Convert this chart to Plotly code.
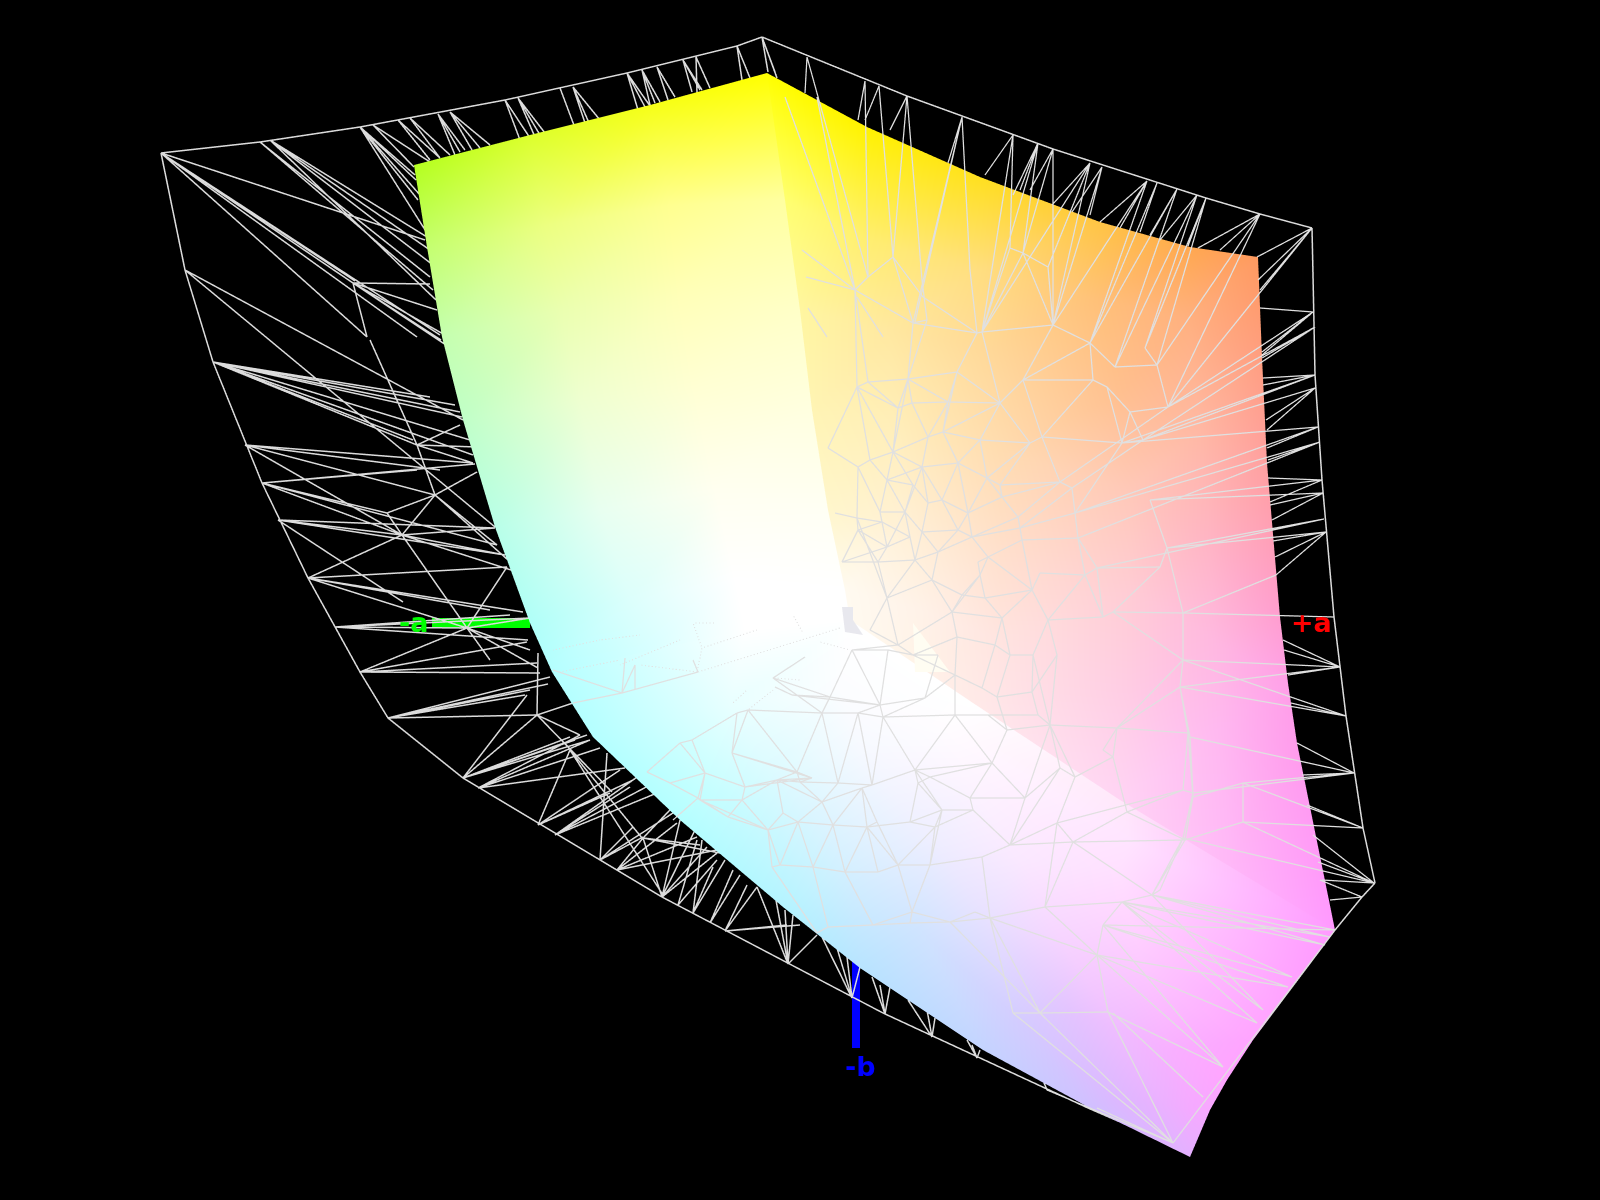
import plotly.graph_objects as go

# ---------- surface panels: rows of (x, y, colour) ----------
LEFT_PANEL = [
 [(414,165,"#b4ff20"),(530,135,"#dcff2c"),(650,105,"#f6ff18"),(767,73,"#ffff00")],
 [(427,247,"#c4ff70"),(545,225,"#ecff80"),(670,205,"#ffff90"),(785,200,"#ffffa0")],
 [(442,337,"#c4ffb0"),(560,310,"#eaffb0"),(680,295,"#ffffb8"),(800,310,"#ffffc8")],
 [(463,420,"#c0ffc8"),(580,400,"#eeffd0"),(695,390,"#ffffd4"),(812,410,"#ffffe0")],
 [(495,527,"#b8ffe8"),(600,510,"#e8fff0"),(715,490,"#fffff0"),(828,510,"#fffff4")],
 [(530,623,"#b0fff8"),(630,600,"#dcfffc"),(735,580,"#ffffff"),(845,590,"#ffffff")],
 [(552,672,"#b4ffff"),(640,655,"#d4ffff"),(745,630,"#ffffff"),(850,620,"#ffffff")],
]
RIGHT_PANEL = [
 [(767,73,"#ffff00"),(867,127,"#fff200"),(980,177,"#ffe020"),(1100,222,"#ffc545"),(1190,247,"#ffa850"),(1258,257,"#ff9a60")],
 [(785,200,"#ffff70"),(870,240,"#ffee70"),(980,270,"#ffde80"),(1100,300,"#ffc078"),(1190,320,"#ffb080"),(1262,357,"#ff9e80")],
 [(800,310,"#fff6a0"),(890,330,"#ffe8a0"),(990,350,"#ffd898"),(1120,395,"#ffc090"),(1200,430,"#ffb8a4"),(1267,463,"#ffa0a0")],
 [(812,410,"#fff4b4"),(895,420,"#ffeeb8"),(1000,450,"#ffdcb0"),(1130,490,"#ffc8b8"),(1210,540,"#ffb4c4"),(1280,617,"#ff9ed0")],
 [(828,510,"#fff6cc"),(905,520,"#fff0d4"),(1000,550,"#ffe0cc"),(1130,590,"#ffccd4"),(1215,640,"#ffb8e0"),(1288,683,"#ffa0e8")],
 [(845,590,"#fffaf0"),(920,610,"#fff2e8"),(1000,640,"#ffe4e0"),(1130,690,"#ffcce4"),(1220,730,"#ffb8f0"),(1297,743,"#ff9cec")],
 [(850,620,"#fffaf0"),(911,663,"#fff4e8"),(973,704,"#ffeae8"),(1120,801,"#ffd4f4"),(1230,869,"#ffb8f8"),(1335,930,"#ff99ff")],
]
BOTTOM_PANEL = [
 [(552,672,"#b4ffff"),(745,630,"#ffffff"),(850,620,"#ffffff"),(973,703,"#ffffff"),(1120,800,"#ffe8fa"),(1335,930,"#ff99ff")],
 [(593,737,"#b4ffff"),(730,705,"#e8ffff"),(840,690,"#fcfdff"),(950,730,"#fffcff"),(1130,840,"#ffe4ff"),(1320,950,"#ff9cff")],
 [(680,820,"#b4ffff"),(770,770,"#dcfbff"),(860,750,"#f6f9ff"),(970,780,"#fdf4ff"),(1120,870,"#ffe0ff"),(1300,975,"#ffa0ff")],
 [(783,907,"#b4f4ff"),(850,860,"#d8f0ff"),(930,840,"#eeeeff"),(1020,860,"#fae8ff"),(1130,920,"#ffd4ff"),(1280,1003,"#ffa4ff")],
 [(860,968,"#b8e4ff"),(920,930,"#d0e4ff"),(990,920,"#e8e0ff"),(1060,940,"#f6d4ff"),(1150,980,"#fcc4ff"),(1253,1040,"#ffa4ff")],
 [(983,1050,"#c4d4ff"),(1020,1020,"#d4ccff"),(1070,1010,"#e4c4ff"),(1120,1030,"#f0bcff"),(1170,1050,"#f8b0ff"),(1227,1080,"#ffa4ff")],
 [(1090,1108,"#d0c0ff"),(1115,1100,"#dcb8ff"),(1140,1100,"#e4b4ff"),(1165,1105,"#ecb0ff"),(1190,1110,"#f4aaff"),(1210,1110,"#f8a8ff")],
 [(1190,1157,"#e4b0ff"),(1190,1157,"#e4b0ff"),(1190,1157,"#e4b0ff"),(1190,1157,"#e4b0ff"),(1190,1157,"#e4b0ff"),(1190,1157,"#e4b0ff")],
]
L_MARK = [(842,607),(853,607),(853,620),(863,635),(845,632)]
PALE_WEDGE = [(913,623),(950,672),(915,672)]
GREEN_BAR = [(432,618),(530,618),(530,628),(432,628)]
BLUE_BAR = [(852,945),(860,945),(860,1048),(852,1048)]

# ---------- cage boundary ----------
CAGE = [(161,153),(260,142),(360,127),(505,100),(627,73),(737,46),(762,37),(907,96),(1053,149),(1206,198),(1260,214),
        (1312,228),(1313,275),(1315,375),(1322,480),(1334,617),(1346,716),(1363,828),(1375,883),(1362,897),(1335,930),
        (1173,1145),(1088,1108),(883,1013),(662,897),(463,778),(388,718),(360,672),(308,578),(262,483),(213,362),(185,270),(161,153)]

# ---------- fans behind the surface: apex, then the ends ----------
BACK_FANS = [
 ((161,153),[(425,240),(353,283),(355,281),(367,337),(417,337),(440,335)]),
 ((353,283),[(430,284),(437,310),(367,337),(445,335),(441,340),(446,345)]),
 ((185,270),[(463,420),(495,527)]),
 ((260,142),[(430,277),(433,290)]),
 ((270,140),[(433,265),(430,250),(427,237),(436,300)]),
 ((360,127),[(427,233),(418,200),(420,195),(416,180),(415,175)]),
 ((373,125),[(414,167),(430,162)]),
 ((398,120),[(430,160),(440,158)]),
 ((410,118),[(440,158),(450,155)]),
 ((438,114),[(455,155),(465,150),(460,152)]),
 ((450,112),[(480,148),(490,145),(472,150)]),
 ((505,100),[(520,140),(530,138)]),
 ((518,98),[(540,135),(545,133),(535,137)]),
 ((560,88),[(575,128)]),
 ((573,87),[(585,123),(600,120),(590,125)]),
 ((627,73),[(638,110),(645,107),(650,106)]),
 ((642,70),[(650,105),(655,103),(660,102)]),
 ((657,67),[(668,100),(675,97)]),
 ((683,60),[(692,92),(700,90),(702,90)]),
 ((696,57),[(710,88),(697,93)]),
 ((737,46),[(742,80),(750,78)]),
 ((762,37),[(768,72),(775,72),(777,78)]),
 ((213,362),[(462,417),(473,455),(430,397),(413,440),(417,445),(460,412),(455,405),(470,440)]),
 ((245,445),[(473,463),(435,495),(402,535),(440,470)]),
 ((262,483),[(475,464),(402,535),(497,545),(387,513),(417,470)]),
 ((278,520),[(495,528),(505,555),(403,602),(402,535)]),
 ((308,578),[(402,535),(507,567),(523,612),(467,628),(490,610)]),
 ((335,627),[(467,628),(530,618),(528,640),(510,615)]),
 ((370,340),[(417,445)]),
 ((417,445),[(435,495),(460,425),(473,463),(477,447)]),
 ((435,495),[(402,535),(477,472),(387,513),(497,545),(508,560)]),
 ((402,535),[(505,555),(467,628),(387,513),(495,528),(511,570)]),
 ((467,628),[(507,567),(490,660),(530,650),(538,668),(530,618)]),
 ((360,672),[(467,628),(527,642),(537,663),(540,673)]),
 ((388,718),[(550,677),(548,684),(537,715),(525,695),(530,690)]),
 ((463,778),[(537,715),(570,737),(587,735),(590,740),(527,695),(575,740)]),
 ((478,788),[(590,740),(625,768),(580,735),(600,748)]),
 ((537,715),[(538,653),(580,735),(612,792),(573,703)]),
 ((538,825),[(570,750),(610,793),(633,780),(620,770)]),
 ((555,835),[(657,793),(630,787),(640,775),(650,785)]),
 ((570,750),[(597,783),(642,838),(663,895)]),
 ((600,860),[(643,837),(673,813),(607,753),(633,827)]),
 ((617,870),[(717,850),(677,823),(697,837),(643,838)]),
 ((643,838),[(662,897),(700,845),(720,853),(670,810)]),
 ((662,897),[(680,820),(707,847),(717,853),(695,830)]),
 ((678,905),[(717,860),(697,840)]),
 ((693,913),[(713,867),(702,840),(725,860)]),
 ((710,923),[(740,875),(733,870)]),
 ((725,931),[(757,887),(787,925),(747,885)]),
 ((788,964),[(757,887),(785,910),(793,915),(817,935),(775,895)]),
 ((725,931),[(800,925)]),
 ((852,998),[(820,933),(837,948),(847,957),(860,967)]),
 ((885,1014),[(872,977),(890,987),(880,985)]),
 ((932,1037),[(908,1000),(927,1010),(935,1018)]),
 ((977,1058),[(967,1040),(980,1050),(972,1045)]),
 ((1047,1090),[(1045,1085),(1042,1078)]),
]

# ---------- nodes of the mesh on the surface ----------
NODES = {
 "a":(857,387),"b":(868,382),"c":(908,379),"d":(957,372),"e":(1000,403),"f":(1023,380),"g":(1093,380),"h":(948,402),
 "i":(912,403),"j":(898,408),"k":(928,437),"l":(943,432),"m":(980,440),"n":(1042,437),"o":(1030,443),"p":(893,452),
 "q":(828,448),"r":(858,467),"s":(870,460),"t":(922,467),"u":(958,463),"v":(987,478),"w":(1000,485),"x":(1060,482),
 "y":(1072,488),"z1":(887,480),"z2":(913,485),"z3":(928,503),"z4":(942,500),"z5":(968,513),"z6":(905,512),"z7":(880,512),
 "z8":(882,522),"z9":(857,518),"y1":(835,513),"y2":(958,530),"y3":(1018,517),"y4":(1020,528),"y5":(1075,513),"y6":(1078,538),
 "y7":(1022,540),"y8":(1002,497),"w1":(922,532),"w2":(910,537),"w3":(858,530),"w4":(887,547),"w5":(972,537),"w6":(988,557),
 "w7":(938,552),"w8":(915,560),"w9":(878,562),"v1":(842,562),"v2":(932,580),"v3":(978,562),"v4":(980,575),"v5":(962,595),
 "v6":(1032,590),"v7":(1040,573),"v8":(1085,575),"v9":(1160,567),"v10":(1097,568),"u1":(887,598),"u2":(952,612),"u3":(985,598),
 "u4":(1002,618),"u5":(1048,620),"u6":(1103,617),"u7":(1113,612),"u8":(870,630),"u9":(898,645),"u10":(913,655),"u11":(957,637),
 "u12":(995,645),"u13":(1010,655),"u14":(1033,655),"u15":(1057,655),
 "A1":(982,332),"A2":(1053,325),"A3":(1090,343),"A7":(1107,387),"A8":(1157,365),"A9":(1115,367),"A10":(1145,348),"A11":(1168,407),
 "A12":(1130,412),"A13":(1122,443),"A14":(1143,440),"A17":(1010,248),"A18":(1023,253),"A19":(1048,267),
 "N1":(855,290),"N2":(868,277),"N3":(893,257),"N4":(913,323),"N5":(927,320),"N6":(923,297),"N7":(977,333),
 "R1":(1183,613),"R2":(1183,660),"R3":(1180,687),"R4":(1190,737),"R5":(1193,793),"R6":(1183,838),"R7":(1160,890),"R8":(1167,548),"R9":(1150,500),
 "B1":(1050,725),"B2":(1117,728),"B3":(1103,750),"B4":(1113,757),"B5":(1060,768),"B6":(1075,777),"B7":(1127,812),"B8":(1057,823),
 "B9":(1073,842),"B10":(1185,840),"B11":(1183,790),"B12":(1193,797),"B13":(1188,733),"B14":(1243,783),"B15":(1243,822),"B16":(1152,895),
 "B17":(1122,902),"B18":(1045,907),"B19":(1097,955),"B20":(1103,925),
 "C1":(873,925),"C2":(912,912),"C3":(910,923),"C4":(950,922),"C5":(990,918),"C6":(975,912),"C12":(1040,1013),"C13":(1013,1013),
 "C14":(1108,1012),"C15":(1173,1143),
 "D1":(852,650),"D2":(888,650),"D3":(830,697),"D4":(880,705),"D5":(822,713),"D6":(858,713),"D7":(883,717),"D8":(955,715),"D9":(988,715),
 "D10":(737,713),"D11":(748,710),"D12":(732,753),"D13":(797,772),"D14":(812,778),"D15":(838,783),"D16":(872,785),"D17":(915,770),
 "D18":(992,763),"D19":(862,788),"D20":(822,802),"D21":(800,782),"D22":(705,773),"D23":(680,743),"D24":(692,740),"D25":(700,800),
 "D26":(745,787),"D27":(777,780),"D28":(783,813),"D29":(742,800),"D30":(728,817),"D31":(768,830),"D32":(798,822),"D33":(833,825),
 "D34":(867,827),"D35":(877,822),"D36":(935,827),"D37":(910,822),"D38":(942,810),"D39":(970,798),"D40":(1025,798),"D41":(973,810),
 "D42":(918,783),"D43":(930,777),"D44":(1010,845),"D45":(982,857),"D46":(898,865),"D47":(845,872),"D48":(813,867),"D49":(780,865),
 "D50":(772,867),"D51":(878,872),"D52":(930,865),"D58":(938,655),"D59":(955,675),"D60":(925,698),"D65":(982,688),"D66":(997,697),
 "D67":(1032,692),"D68":(1038,715),"D69":(1007,730),
 "E1":(622,693),"E2":(698,672),"E4":(698,798),"E6":(670,783),"E12":(647,772),"E13":(625,658),"E14":(635,665),"E15":(635,690),
 "E16":(553,670),"E17":(573,703),"E18":(693,660),"E19":(828,927),"E20":(817,933),"E21":(673,820),
 "H1":(773,678),"H2":(805,657),"H3":(775,687),"H4":(792,695),
}
MESH_EDGES = """a-b a-j a-s s-z1 a-q b-c b-j c-d c-i c-h d-h d-e i-h h-e j-i j-p i-k h-l k-l l-m e-m m-o e-f f-n e-o n-o f-g
p-k p-s p-t t-u k-t l-u m-u m-v v-w u-v u-z4 u-z5 t-z3 t-z6 t-z4 q-r r-s r-z9 z9-u1 p-z1 z1-z2 z2-z6 z2-z3 z1-z7 z7-z6 z7-z8 z8-z9 z8-w4
z6-w1 z6-w2 z3-w1 z3-z4 z4-z5 z5-v z5-y2 z5-y8 y8-w w-x y8-x x-y y-y5 y5-y6 y3-y8 y3-y4 y4-y7 y4-y5 y7-y6 y3-x y6-v8 y7-v6 y7-w6 y2-w5 y2-w1
w1-w7 w7-w5 w5-w6 w6-v3 v3-v4 w8-w7 w8-w2 w2-w4 w4-w9 w9-w8 w8-v2 w9-u1 v1-w9 v1-w4 w3-z9 w3-w4 y1-z9 v2-v5 v2-u1 v2-u2 v5-u2 v4-v5 v4-u3 u3-v6 u3-u4 v6-u4
v6-u5 v6-v7 v7-v8 v8-v10 v10-v9 v8-u6 u6-u5 u6-u7 u1-u8 u8-u9 u9-u10 u1-u9 u2-u9 u2-u11 u2-u4 u11-u10 u11-u12 u4-u12 u4-u13 u5-u14 u5-u15 v9-u7 v9-R8
a-p c-p c-j d-l h-k e-l g-n n-x o-v o-w p-z2 t-z1 z1-z6 r-z7 w3-w9 w3-v1 z8-w3 z6-w4 w2-z8 w1-w8 y2-w7 z5-w5 y2-z4 v-y8 y3-w5 y4-w5 x-y3 y-y4 y5-y4 v5-u3 u6-v10 y6-v10 w6-v6 w6-v4 v2-w7 u1-w8 u5-v8 u3-v5 u2-v4
A1-A2 A1-e A1-A17 A17-A18 A18-A19 A18-A1 A18-A2 A19-A2 A2-A3 A2-f A3-f A3-g g-A7 A7-A13 A3-A9 A9-A8 A10-A8 A8-A11 A12-A11 A12-A13 A12-A7 A13-A14 n-A13 A12-A14
N1-N2 N2-N3 N3-N6 N3-N4 N1-N4 N6-N7 N4-N7 N4-N5 N1-a N1-b N4-c N5-c N7-d A1-N7 R8-R9 R8-R1 R1-R2 R2-R3 R3-R4 R4-R5 R5-R6 R6-R7 A14-y A13-y5 A11-x
D1-D2 D1-D3 D1-D4 D2-D4 D3-D4 D3-D5 D4-D6 D4-D7 D6-D5 D6-D7 D7-D8 D8-D9 D5-D13 D5-D15 D6-D15 D6-D16 D7-D16 D7-D17 D8-D17 D8-D18 D9-D69
D11-D5 D11-D13 D10-D12 D11-D12 D12-D14 D12-D13 D13-D21 D21-D15 D15-D16 D16-D17 D17-D18 D17-D42 D19-D20 D16-D19 D19-D35 D19-D34 D20-D21 D20-D32 D20-D33 D20-D27
D18-D43 D18-D39 D18-D40 D39-D40 D39-D41 D41-D36 D42-D37 D38-D36 D36-D37 D34-D37 D34-D35 D33-D34 D33-D32 D32-D31 D31-D30 D31-D28 D28-D32 D28-D27 D27-D14
D26-D27 D26-D12 D26-D29 D29-D30 D30-D25 D25-D22 D22-D23 D22-D24 D22-D26 D23-D24 D10-D24 D25-D31 D31-D50 D31-D49 D32-D49 D32-D48 D33-D48 D33-D47 D34-D47 D34-D51
D36-D46 D36-D52 D38-D52 D41-D44 D44-D45 D45-D52 D45-C5 D52-C2 D46-C2 D46-D51 D51-D47 D47-D48 D48-D49 D49-D50 D44-B8 D44-D40
D10-D11 D13-D14 D14-D21 D21-D27 D27-D13 D14-D26 D20-D15 D20-D19 D33-D19 D37-D38 D38-D17 D17-D43 D43-D39 D42-D43 D42-D38 D36-D41 D38-D41 D46-D34 D46-D35 D52-D46 D44-D41 D29-D31 D27-D29 D25-D29 D22-E6 E12-D23
u9-D1 u10-D2 u10-D58 D58-D60 u10-D59 D59-u11 D59-D8 D59-D60 D60-D7 D60-D4 D59-D65 D65-u12 D65-D66 u12-u13 u13-u14 u14-D67 u13-D66 D66-D67 D67-D68 D68-D9 D66-D69 D69-D18 D69-D9
u14-B1 u15-B1 u15-D67 D68-B1 D69-B1 D40-B1 D40-B5 B5-D44 B9-D44 B8-B18 B9-B18 u7-R1 u7-R2 R3-B13 R2-B2 B2-R3 B13-R4 R5-B11 B12-R5 B10-R6 R7-B16 B16-R6 B7-B10
B1-B2 B1-B5 B1-B6 B2-B3 B2-B4 B2-B13 B3-B4 B4-B6 B4-B7 B6-B5 B6-B8 B8-B9 B9-B10 B9-B7 B9-B16 B10-B16 B11-B13 B13-B12 B12-B10 B11-B7 B11-B8 B10-B15 B15-B14 B14-B12 B16-B17 B17-B18 B17-B20 B20-B19 B18-B19
C1-C3 C3-C4 C4-C5 C5-B18 C1-C2 C2-C4 C2-C3 C6-C4 C6-C5 C5-B19 B18-B19 C12-C13 C12-C14 C14-C15 C12-C15 C13-C15 B19-C12 B19-C14 C4-C12 C5-C12 C5-C13 D47-C1 D48-E19 E19-C1 D50-E20 E20-E19
E1-E13 E1-E14 E14-E15 E1-E2 E1-E16 E1-E17 E2-E18 E12-E6 E6-E4 E6-D22 D22-D23 E4-D22 E4-E21 E4-D30 E4-D25 H1-H2 H3-H4 H1-D3 H4-D3 H4-D4 H1-D5"""

# ---------- long lines that run over the surface, apex then ends ----------
FRONT_FANS = [
 ((807,57),[(805,93),(868,277)]),
 ((817,97),["N1"]),((785,97),["N1"]),((802,250),["N1"]),((806,277),["N1"]),((808,308),[(827,337)]),((857,297),[(883,337)]),
 ((865,81),["N2",(858,120)]),
 ((879,86),["N3",(865,120)]),
 ((907,96),[(890,130),"N3",(922,280)]),
 ((922,280),["N5"]),
 ((962,117),[(948,163),"N4",(915,322),(970,270)]),
 ((970,270),["N7"]),
 ((1013,135),[(985,175),"A17","A1"]),
 ((1038,143),["A18",(1013,195),"A1",(1020,190)]),
 ((1053,149),["A18","A2",(1030,190)]),
 ((1090,163),["A19","A2",(1052,205),"A1"]),
 ((1102,167),["A2",(1072,212),(1090,215)]),
 ((1147,181),[(1100,222),"A3",(1120,228),"A2"]),
 ((1157,183),[(1140,232),"A3"]),
 ((1177,189),[(1150,235),"A3","A9"]),
 ((1197,195),[(1160,240),"A9","A10"]),
 ((1206,198),["A10","A8",(1188,246)]),
 ((1260,214),[(1198,248),(1220,250),"A8","A11"]),
 ((1312,228),[(1257,257),(1260,290),(1258,280),"A11"]),
 ((1313,312),[(1262,355),(1262,352),(1260,308),"A11"]),
 ((1315,327),[(1262,358),"A14","A11"]),
 ((1315,375),[(1263,378),(1263,385),(1265,393),"A14","A13"]),
 ((1315,388),[(1266,420),(1267,430),"A14"]),
 ((1318,427),[(1267,448),"A13","y5"]),
 ((1320,442),[(1268,460),"y5","y6"]),
 ((1322,480),[(1268,478),(1270,502),"R9"]),
 ((1323,493),[(1270,505),(1272,520),"R9"]),
 ((1324,519),[(1272,530),"R8","v10"]),
 ((1326,532),[(1273,541),(1275,557),(1276,575),"R8"]),
 ((1276,575),["R1"]),
 ((1334,617),["R1"]),
 ((1340,667),[(1283,640),(1284,650),"R2",(1288,675),"R3"]),
 ((1346,716),["R3",(1291,703),"R2"]),
 ((1354,773),["R4",(1297,743),"R5","B14",(1302,775)]),
 ((1363,828),["B14","B15",(1307,805)]),
 ((1374,883),["B15",(1313,835),(1318,862),(1322,880),"R6"]),
 ((1362,897),[(1320,880),(1330,900)]),
 ((1335,930),["C15","B16","B16","B20"]),
 ((1330,937),["B16","B17"]),
 ((1325,945),["B16","B17"]),
 ((1292,977),["B20","B17"]),
 ((1288,987),["B19","B20"]),
 ((1263,1010),["B16","B17"]),
 ((1257,1023),["B17","B19"]),
 ((1223,1067),["B19","B20","C14"]),
 ((1203,1097),[(1113,1013)]),
 ((1173,1143),[(1097,1108),(1047,1090)]),
]

# ---------- faint dotted traces in the white area ----------
DOTTED = [((698,672),(840,628)),((702,648),(757,630)),((693,623),(715,623)),((693,623),(702,648)),((702,648),(697,672)),
          ((640,665),(698,672)),((793,615),(803,633)),((820,642),(850,650)),((733,703),(747,690)),((748,710),(773,690)),
          ((775,678),(800,680)),((600,640),(640,635)),((553,650),(600,640)),((620,665),(680,640)),((560,672),(620,660))]

LABELS = [("-a",414,622,"#00ff00"),("+a",1311,622,"#ff0000"),("-b",860,1066,"#0000ff")]

# ---------- builders ----------
FLAT = dict(ambient=1, diffuse=0, specular=0, fresnel=0, roughness=1)
def panel_mesh(rows):
    xs, ys, cs, ii, jj, kk = [], [], [], [], [], []
    w = len(rows[0])
    for row in rows:
        for x, y, c in row:
            xs.append(x); ys.append(-y); cs.append(c)
    for r in range(len(rows)-1):
        for q in range(w-1):
            p = r*w+q
            ii += [p, p+1]; jj += [p+1, p+w+1]; kk += [p+w, p+w]
    return go.Mesh3d(x=xs, y=ys, z=[0]*len(xs), i=ii, j=jj, k=kk, vertexcolor=cs, flatshading=False,
                     lighting=FLAT, hoverinfo="skip", showscale=False)

def flat_poly(pts, color, z):
    n = len(pts)
    return go.Mesh3d(x=[p[0] for p in pts], y=[-p[1] for p in pts], z=[z]*n,
                     i=[0]*(n-2), j=list(range(1, n-1)), k=list(range(2, n)), color=color,
                     lighting=FLAT, hoverinfo="skip")

def res(p):
    return NODES[p] if isinstance(p, str) else p

def line_trace(segs, z, width, color, dash=None):
    xs, ys, zs = [], [], []
    for a, b in segs:
        a, b = res(a), res(b)
        xs += [a[0], b[0], None]; ys += [-a[1], -b[1], None]; zs += [z, z, None]
    ln = dict(width=width, color=color)
    if dash:
        ln["dash"] = dash
    return go.Scatter3d(x=xs, y=ys, z=zs, mode="lines", line=ln, hoverinfo="skip", connectgaps=False)

back = [(CAGE[i], CAGE[i+1]) for i in range(len(CAGE)-1)]
for apex, ends in BACK_FANS:
    back += [(apex, e) for e in ends]
front = [tuple(t.split("-")) for t in MESH_EDGES.split()]
for apex, ends in FRONT_FANS:
    front += [(apex, e) for e in ends]

traces = [
    flat_poly(GREEN_BAR, "#00ff00", -2),
    flat_poly(BLUE_BAR, "#0000ff", -2),
    line_trace(back, -1, 3, "#dcdcdc"),
    panel_mesh(LEFT_PANEL), panel_mesh(RIGHT_PANEL), panel_mesh(BOTTOM_PANEL),
    flat_poly(PALE_WEDGE, "#fffdf2", 0.3),
    flat_poly(L_MARK, "#e8e8ee", 0.5),
    line_trace(DOTTED, 1, 2, "#e2e2e2", "dot"),
    line_trace(front, 1, 2.5, "#e0e0e0"),
]
fig = go.Figure(traces)
hid = dict(visible=False, showgrid=False, zeroline=False, showspikes=False)
fig.update_layout(
    width=1600, height=1200, margin=dict(l=0, r=0, t=0, b=0), showlegend=False,
    paper_bgcolor="#000000", plot_bgcolor="#000000",
    scene=dict(domain=dict(x=[0,1], y=[0,1]), bgcolor="#000000",
               xaxis=dict(range=[0,1600], **hid), yaxis=dict(range=[-1200,0], **hid), zaxis=dict(range=[-10,10], **hid),
               aspectmode="manual", aspectratio=dict(x=8/3, y=2, z=0.2),
               camera=dict(eye=dict(x=0, y=0, z=1), up=dict(x=0, y=1, z=0), center=dict(x=0,y=0,z=0),
                           projection=dict(type="orthographic"))),
    annotations=[dict(text=t, x=x/1600, y=1-y/1200, xref="paper", yref="paper", xanchor="center", yanchor="middle",
                      showarrow=False, font=dict(family="DejaVu Sans", size=27, color=c, weight="bold")) for t, x, y, c in LABELS],
)
fig.write_html("out.html", config=dict(displayModeBar=False),
               post_script="document.body.style.margin='0';document.body.style.background='#000';")
